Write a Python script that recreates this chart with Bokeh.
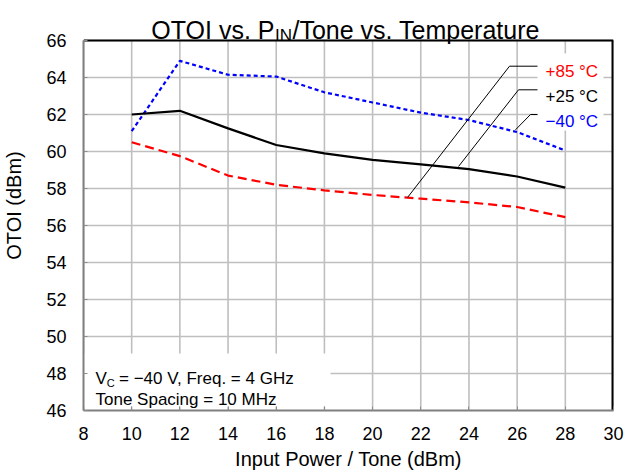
from bokeh.plotting import figure
from bokeh.models import Range1d, FixedTicker
from bokeh.core.properties import value
from bokeh.embed import file_html
from bokeh.resources import INLINE

# ---- data ----
pin = [10, 12, 14, 16, 18, 20, 22, 24, 26, 28]
otoi_m40 = [61.1, 64.9, 64.15, 64.05, 63.2, 62.65, 62.1, 61.7, 61.05, 60.05]
otoi_p25 = [62.0, 62.2, 61.25, 60.35, 59.9, 59.55, 59.3, 59.05, 58.65, 58.05]
otoi_p85 = [60.5, 59.75, 58.7, 58.2, 57.9, 57.65, 57.45, 57.25, 57.0, 56.45]
x_ticks = [8, 10, 12, 14, 16, 18, 20, 22, 24, 26, 28, 30]
y_ticks = [46, 48, 50, 52, 54, 56, 58, 60, 62, 64, 66]
series_labels = ["+85 °C", "+25 °C", "\u221240 °C"]
title_parts = ["OTOI vs. P", "IN", "/Tone vs. Temperature"]
note_parts = ["V", "C", "= \u221240 V, Freq. = 4 GHz", "Tone Spacing = 10 MHz"]

FONT = "Liberation Sans"
F = value(FONT)
XMIN, XMAX, YMIN, YMAX = 8, 30, 46, 66

# frame spans page y 0..410 (title area included); plot box is y 40..410
y_top = YMIN + 410 * (YMAX - YMIN) / 370

p = figure(width=626, height=473, title=None,
           x_range=Range1d(XMIN, XMAX), y_range=Range1d(YMIN, y_top),
           output_backend="svg", toolbar_location=None,
           min_border_left=83, min_border_top=0, min_border_right=13,
           min_border_bottom=63)

# page-pixel -> data helpers (for annotation placement)
def dx(px):
    return XMIN + (px - 83) * (XMAX - XMIN) / 530

def dy(py):
    return YMAX - (py - 40) * (YMAX - YMIN) / 370

p.xaxis.ticker = FixedTicker(ticks=x_ticks)
p.yaxis.ticker = FixedTicker(ticks=y_ticks)
p.yaxis.bounds = (YMIN, YMAX)
p.ygrid.ticker = FixedTicker(ticks=y_ticks)
p.ygrid.grid_line_color = "#BFBFBF"
p.ygrid.grid_line_width = 1.6
p.xgrid.visible = False
# vertical grid lines limited to the plot box
p.segment(x0=x_ticks, y0=[YMIN] * len(x_ticks), x1=x_ticks, y1=[YMAX] * len(x_ticks),
          line_color="#BFBFBF", line_width=1.6)

for ax in (p.xaxis, p.yaxis):
    ax.major_tick_in = 4
    ax.major_tick_out = 0
    ax.minor_tick_line_color = None
    ax.major_tick_line_color = "#8C8C8C"
    ax.axis_line_color = "#7F7F7F"
    ax.axis_line_width = 2
    ax.major_label_text_font = FONT
    ax.major_label_text_font_size = "18px"
    ax.major_label_text_color = "black"
    ax.axis_label_text_font = FONT
    ax.axis_label_text_font_size = "20px"
    ax.axis_label_text_font_style = "normal"
    ax.axis_label_text_color = "black"

p.xaxis.axis_label = "Input Power / Tone (dBm)"
p.yaxis.axis_label = "OTOI (dBm)"
p.xaxis.major_label_standoff = 16
p.xaxis.axis_label_standoff = 5
p.yaxis.major_label_standoff = 17
p.yaxis.axis_label_standoff = 18

p.outline_line_color = None

# white backgrounds for legend and note
p.quad(left=[dx(537)], right=[dx(603)], top=[dy(53)], bottom=[dy(130)],
       fill_color="white", line_color=None)
p.quad(left=[XMIN], right=[dx(330)], top=[dy(353)], bottom=[dy(406)],
       fill_color="white", line_color=None)

# top and right borders of the plot box
p.line([XMIN, XMAX], [YMAX, YMAX], line_color="black", line_width=2)
p.line([XMAX, XMAX], [YMIN, YMAX], line_color="black", line_width=4)

# series
p.line(pin, otoi_p85, line_color="#FF0000", line_width=2.2, line_dash="9 5")
p.line(pin, otoi_m40, line_color="#0000FF", line_width=2.2, line_dash="4 3")
p.line(pin, otoi_p25, line_color="black", line_width=2.2)

# leader lines
p.line([dx(407), dx(509), dx(537)], [dy(197), dy(65.7), dy(65.7)], line_color="black", line_width=1)
p.line([dx(458), dx(518), dx(537)], [dy(166), dy(89.3), dy(89.3)], line_color="black", line_width=1)
p.line([dx(515), dx(530), dx(537)], [dy(129.3), dy(114), dy(114)], line_color="black", line_width=1)

def lab(x, y, s, size, color="black", align="left", baseline="alphabetic"):
    p.text(x=[x], y=[y], text=[s], text_font=F, text_font_size=size,
           text_color=color, text_align=align, text_baseline=baseline)

lab(dx(545), dy(71), series_labels[0], "17px", "#FF0000")
lab(dx(545), dy(96), series_labels[1], "17px", "black")
lab(dx(545), dy(121), series_labels[2], "17px", "#0000FF")

# note
lab(dx(95), dy(378), note_parts[0], "17px")
lab(dx(106.3), dy(382), note_parts[1], "11px")
lab(dx(118.5), dy(378), note_parts[2], "17px")
lab(dx(95), dy(399), note_parts[3], "17px")

# title
lab(dx(274), dy(29), title_parts[0], "25px", align="right")
lab(dx(274.5), dy(35), title_parts[1], "17px")
lab(dx(292), dy(29), title_parts[2], "25px")

open("out.html", "w").write(file_html(p, INLINE))
